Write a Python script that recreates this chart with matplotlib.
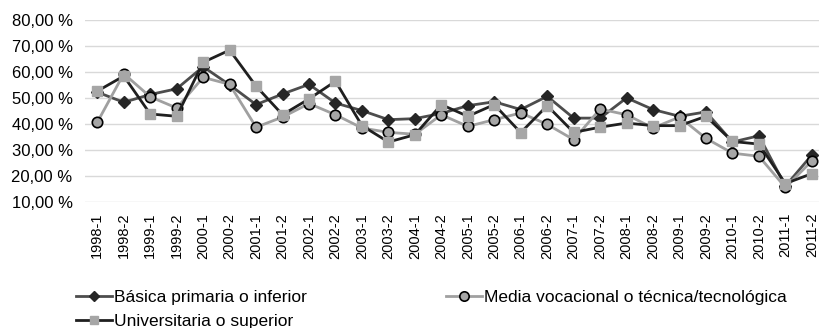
import matplotlib
matplotlib.use("Agg")
import matplotlib.pyplot as plt
from matplotlib.ticker import FuncFormatter

plt.rcParams['font.family'] = ['Liberation Sans', 'DejaVu Sans']

# periods 1998-1 .. 2011-2
periods = ['%d-%d' % (y, s) for y in range(1998, 2012) for s in (1, 2)]

basica = [52.2, 48.3, 51.3, 53.5, 62.0, 55.0, 47.4, 51.5, 55.2, 48.0,
          45.1, 41.6, 42.0, 44.0, 47.0, 48.5, 45.5, 50.6, 42.2, 42.2,
          50.0, 45.5, 42.9, 44.6, 33.0, 35.4, 16.0, 28.0]
media = [40.6, 59.3, 50.4, 46.1, 57.9, 55.2, 38.7, 42.6, 47.8, 43.5,
         38.4, 36.7, 36.0, 43.5, 39.0, 41.6, 44.2, 39.8, 33.9, 45.7,
         43.5, 38.4, 42.6, 34.4, 28.7, 27.5, 15.5, 25.7]
univ = [52.6, 58.4, 43.8, 42.9, 63.7, 68.4, 54.5, 43.5, 49.6, 56.4,
        39.3, 33.0, 35.8, 47.4, 42.9, 47.4, 36.6, 47.0, 36.7, 38.7,
        40.3, 39.3, 39.3, 42.9, 33.2, 32.2, 17.0, 20.8]

fig = plt.figure(figsize=(8.19, 3.28), dpi=100)
ax = fig.add_axes([85 / 819, 1 - 201.7 / 328, 734 / 819, 181.7 / 328])

x = list(range(len(periods)))
l1, = ax.plot(x, basica, color='#4d4d4d', lw=2, marker='D', ms=6,
              mfc='#262626', mec='#262626', label='Básica primaria o inferior', zorder=3)
l2, = ax.plot(x, media, color='#a0a0a0', lw=2, marker='o', ms=7.5,
              mfc='#a6a6a6', mec='black', mew=1.2,
              label='Media vocacional o técnica/tecnológica', zorder=4)
l3, = ax.plot(x, univ, color='#1f1f1f', lw=2, marker='s', ms=6.5,
              mfc='#a6a6a6', mec='#a6a6a6', label='Universitaria o superior', zorder=5)

ax.set_ylim(10, 80)
ax.set_xlim(-0.465, 27.27)
ax.set_yticks(range(10, 81, 10))
ax.yaxis.set_major_formatter(FuncFormatter(lambda v, p: '%d,00 %%' % v))
ax.set_xticks(x)
ax.set_xticklabels(periods, rotation=90, fontsize=10.5)
ax.tick_params(axis='y', labelsize=12, length=0, pad=9)
ax.tick_params(axis='x', length=0, pad=8)
ax.grid(axis='y', color='#d9d9d9', lw=1)
ax.set_axisbelow(True)
for s in ax.spines.values():
    s.set_visible(False)

fig.legend([l1, l3, l2], [l1.get_label(), l3.get_label(), l2.get_label()],
           loc='upper left', bbox_to_anchor=(76 / 819, 1 - 290 / 328), ncol=2,
           frameon=False, fontsize=12.5, handlelength=2.1, handletextpad=0.1,
           columnspacing=8.0, labelspacing=0.5, borderaxespad=0, borderpad=0,
           markerscale=0.9)

fig.savefig('out.png', dpi=100)
